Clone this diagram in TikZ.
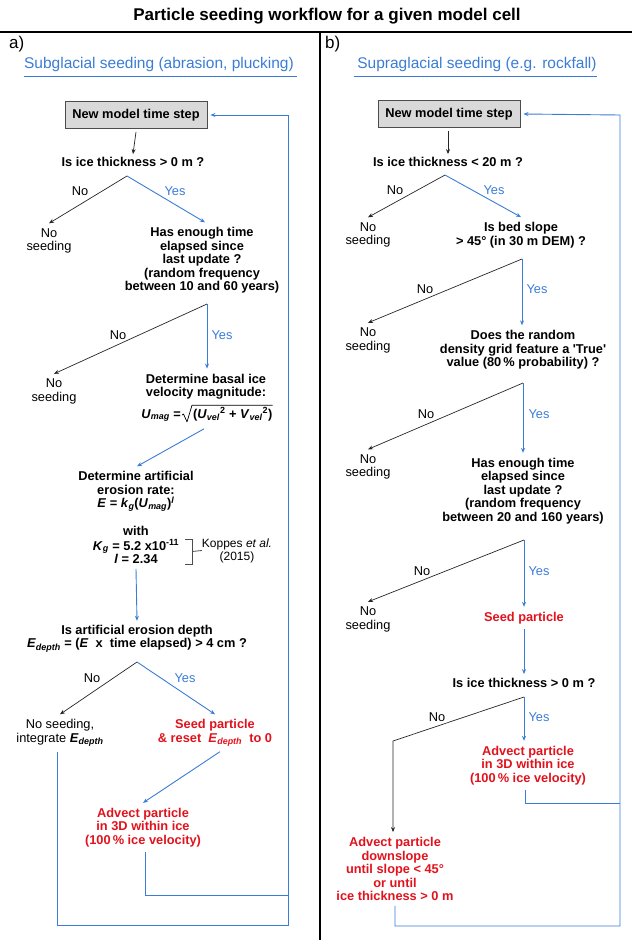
\documentclass[tikz,border=0pt]{standalone}
\usepackage{fontspec}
\setmainfont{Liberation Sans}
\usetikzlibrary{arrows.meta,calc}
\definecolor{myblue}{RGB}{58,124,214}
\definecolor{myred}{RGB}{226,18,28}
\definecolor{boxgray}{RGB}{217,217,217}
\begin{document}
\begin{tikzpicture}[x=1pt,y=-1pt,
 every node/.style={inner sep=0pt, align=center, font=\fontsize{12.8}{13.5}\selectfont},
 q/.style={font=\bfseries\fontsize{12.8}{13.5}\selectfont},
 rq/.style={q, text=myred},
 lbl/.style={font=\fontsize{12.8}{13.5}\selectfont},
 ylbl/.style={lbl, text=myblue},
 bl/.style={draw=myblue, line width=0.9pt},
 bk/.style={draw=black!85, line width=0.7pt},
 arr/.style={-{Stealth[length=5pt,width=4pt]}},
 stepbox/.style={draw=black!70, fill=boxgray, line width=0.9pt, minimum width=142pt, minimum height=27pt, font=\bfseries\fontsize{12.8}{14}\selectfont},
 sub/.style={text=myblue, font=\fontsize{15.5}{18}\selectfont},
]
\useasboundingbox (0,0) rectangle (632,940);
% title and frame
\node[font=\bfseries\fontsize{17}{20}\selectfont] (title) at (327,16) {Particle seeding workflow for a given model cell};
\coordinate (hl) at (0,32); \coordinate (hr) at (632,32);
\coordinate (vt) at (320,32); \coordinate (vb) at (320,940);
\draw[line width=1.6pt] (hl) -- (hr);
\draw[line width=1.6pt] (vt) -- (vb);
\node[anchor=west, font=\fontsize{17}{20}\selectfont] (la) at (9,44) {a)};
\node[anchor=west, font=\fontsize{17}{20}\selectfont] (lb) at (325,44) {b)};
\node[sub] (sub1) at (159,64) {Subglacial seeding (abrasion, plucking)};
\node[sub] (sub2) at (477,64) {Supraglacial seeding (e.g. rockfall)};
\draw[myblue, line width=0.8pt] (24,76) -- (297,76);
\draw[myblue, line width=0.8pt] (354,76) -- (597,76);

% ---------------- left panel ----------------
\node[stepbox] (box1) at (136,115) {New model time step};
\node[q] (q1) at (133,162) {Is ice thickness > 0 m ?};
\coordinate (s1) at (127,176);
\node (ns1) at (49,241) {No\\seeding};
\node[q] (q2) at (202,260.5) {Has enough time\\elapsed since\\last update ?\\(random frequency\\between 10 and 60 years)};
\coordinate (s2) at (207,304);
\node (ns2) at (54,391.5) {No\\seeding};
\node[q] (q3) at (206,386.5) {Determine basal ice\\velocity magnitude:};
\node[q, anchor=base west] (rad) at (193,418) {(\textit{U}\textsubscript{\textit{vel}}\textsuperscript{2} + \textit{V}\textsubscript{\textit{vel}}\textsuperscript{2})};
\node[q, anchor=base east] (umag) at (181,418) {\textit{U}\textsubscript{\textit{mag}} =};
\draw[black, line width=0.7pt, line join=round]
  ([xshift=-11pt,yshift=-1pt]rad.west) -- ([xshift=-9.5pt]rad.west)
  -- ([xshift=-6pt,yshift=-1pt]rad.south west) -- ([xshift=-1pt,yshift=2pt]rad.north west)
  -- ([yshift=2pt]rad.north east);
\node[q] (q4) at (136,491.5) {Determine artificial\\erosion rate:\\\textit{E} = \textit{k}\textsubscript{\textit{g}}(\textit{U}\textsubscript{\textit{mag}})\textsuperscript{\textit{l}}};
\node[q] (w4) at (136,545) {with\\[1pt]\textit{K}\textsubscript{\textit{g}} = 5.2 x10\textsuperscript{-11}\\\textit{l} = 2.34};
\node[font=\fontsize{12}{13}\selectfont] (kop) at (237,550.5) {Koppes \textit{et al.}\\(2015)};
\draw[black!70, line width=0.8pt] (185,539) -- (192,539) -- (192,564) -- (185,564);
\draw[black!70, line width=0.8pt] (192,551.5) -- (kop.west);
\node[q] (q5) at (137,638.5) {Is artificial erosion depth\\\textit{E}\textsubscript{\textit{depth}} = (\textit{E}~ x~ time elapsed) > 4 cm ?};
\coordinate (s5) at (137,662);
\node (ns5) at (60,733) {No seeding,\\integrate \textbf{\textit{E}\textsubscript{\textit{depth}}}};
\node[rq] (seed5) at (215,733) {Seed particle\\\& reset~ \textit{E}\textsubscript{\textit{depth}}~ to 0};
\node[rq] (adv5) at (143,827.5) {Advect particle\\in 3D within ice\\(100\,\% ice velocity)};

\node[lbl] (n1) at (80,191) {No};
\node[ylbl] (y1) at (175,191) {Yes};
\node[lbl] (n2) at (118,335) {No};
\node[ylbl] (y2) at (222,335) {Yes};
\node[lbl] (n5) at (92,678) {No};
\node[ylbl] (y5) at (185,678) {Yes};

\draw[bk,arr] ([yshift=-3pt]box1.south) -- ([yshift=3pt]q1.north);
\draw[bk,arr] (s1) -- ([yshift=5pt]ns1.north);
\draw[bl,arr] (s1) -- ([xshift=3pt,yshift=5pt]q2.north);
\draw[bk,arr] (s2) -- ([yshift=5pt]ns2.north);
\draw[bl,arr] (s2) -- ($(s2 |- q3.north)+(0,-5)$);
\draw[bl,arr] ([xshift=11pt,yshift=-8pt]rad.south west) -- ([xshift=1pt,yshift=5pt]q4.north);
\draw[bl,arr] ([yshift=-5pt]w4.south) -- ([yshift=4pt]q5.north);
\draw[bk,arr] (s5) -- ([yshift=5pt]ns5.north);
\draw[bl,arr] (s5) -- ([yshift=5pt]seed5.north);
\draw[bl,arr] ([xshift=5pt,yshift=-5pt]seed5.south) -- ([yshift=5pt]adv5.north);
\coordinate (rt1) at (288,115);
\coordinate (rm1) at (288,895);
\coordinate (rb1) at (288,925);
\draw[bl] ([xshift=2pt,yshift=-5pt]adv5.south) |- (rm1);
\draw[bl,arr] ([xshift=-3pt,yshift=-5pt]ns5.south) |- (rb1) -- (rt1) -- ([xshift=3pt]box1.east);

% ---------------- right panel ----------------
\node[stepbox] (box2) at (449,114) {New model time step};
\node[q] (q6) at (448,162) {Is ice thickness < 20 m ?};
\coordinate (s6) at (445,175);
\node (ns6) at (368,235) {No\\seeding};
\node[q] (q7) at (521,235) {Is bed slope\\> 45° (in 30 m DEM) ?};
\coordinate (s7) at (522,259);
\node (ns7) at (368,340.5) {No\\seeding};
\node[q] (q8) at (523,350) {Does the random\\density grid feature a \textquotesingle True\textquotesingle\\value (80\,\% probability) ?};
\coordinate (s8) at (523,383);
\node (ns8) at (368,467) {No\\seeding};
\node[q] (q9) at (523,491) {Has enough time\\elapsed since\\last update ?\\(random frequency\\between 20 and 160 years)};
\coordinate (s9) at (524,540);
\node (ns9) at (368,619.5) {No\\seeding};
\node[rq] (seed9) at (524,618) {Seed particle};
\node[q] (q10) at (524,683) {Is ice thickness > 0 m ?};
\coordinate (s10) at (524,697);
\node[rq] (adv10) at (528,765.5) {Advect particle\\in 3D within ice\\(100\,\% ice velocity)};
\node[rq] (adv11) at (395,869) {Advect particle\\downslope\\until slope < 45°\\or until\\ice thickness > 0 m};

\node[lbl] (n6) at (395,190) {No};
\node[ylbl] (y6) at (494,190) {Yes};
\node[lbl] (n7) at (425,289) {No};
\node[ylbl] (y7) at (537,289) {Yes};
\node[lbl] (n8) at (426,414) {No};
\node[ylbl] (y8) at (539,414) {Yes};
\node[lbl] (n9) at (422,571) {No};
\node[ylbl] (y9) at (539,571) {Yes};
\node[lbl] (n10) at (437,717) {No};
\node[ylbl] (y10) at (539,717) {Yes};

\draw[bk,arr] ([xshift=-1pt,yshift=-3pt]box2.south) -- ([yshift=3pt]q6.north);
\draw[bk,arr] (s6) -- ([yshift=5pt]ns6.north);
\draw[bl,arr] (s6) -- ([yshift=5pt]q7.north);
\draw[bk,arr] (s7) -- ([yshift=5pt]ns7.north);
\draw[bl,arr] (s7) -- ($(s7 |- q8.north)+(0,-5)$);
\draw[bk,arr] (s8) -- ([yshift=5pt]ns8.north);
\draw[bl,arr] (s8) -- ($(s8 |- q9.north)+(0,-5)$);
\draw[bk,arr] (s9) -- ([yshift=5pt]ns9.north);
\draw[bl,arr] (s9) -- ($(s9 |- seed9.north)+(0,-5)$);
\draw[bl,arr] ([yshift=-5pt]seed9.south) -- ([yshift=4pt]q10.north);
\coordinate (k10) at (393,741);
\draw[bl,arr] (s10) -- ($(s10 |- adv10.north)+(0,-5)$);
\draw[bk,arr] (s10) -- (k10) -- ($(k10 |- adv11.north)+(0,-5)$);
\coordinate (rt2) at (620,115);
\coordinate (rm2) at (620,803);
\coordinate (rb2) at (620,926);
\draw[bl] ([xshift=-3pt,yshift=-5pt]adv10.south) |- (rm2);
\draw[bl,arr] ([yshift=-5pt]adv11.south) |- (rb2) -- (rt2) -- ([xshift=3pt]box2.east);
\end{tikzpicture}
\end{document}
